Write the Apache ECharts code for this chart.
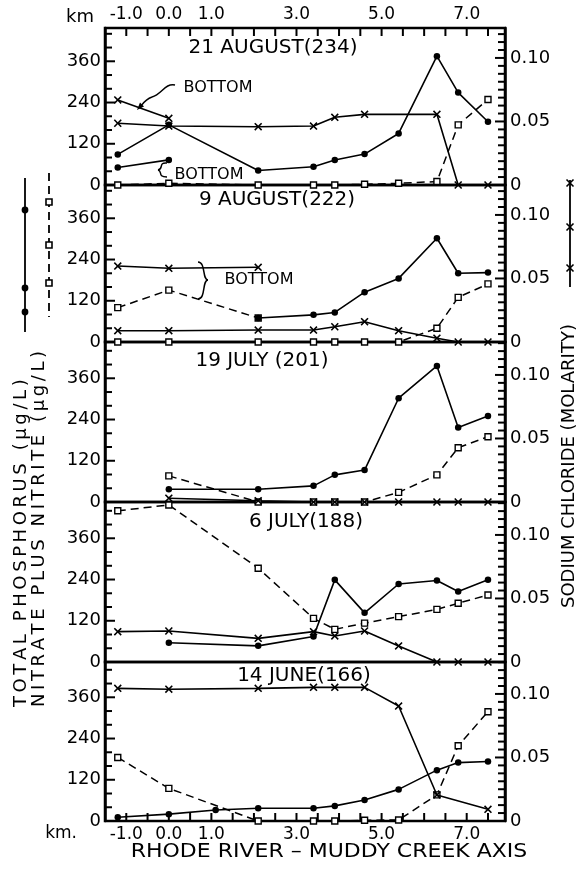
<!DOCTYPE html>
<html>
<head>
<meta charset="utf-8">
<title>Rhode River - Muddy Creek axis: phosphorus, nitrate and sodium chloride</title>
<script src="https://cdn.jsdelivr.net/npm/echarts@6/dist/echarts.min.js"></script>
<style>
  html, body { margin: 0; padding: 0; background: #fff; }
  #chart { width: 581px; height: 871px; background: #fff; }
</style>
</head>
<body>
<div id="chart"></div>
<script>
// Sampling stations along the axis (km)
const stationKm = [-1.2, 0.0, 1.1, 2.1, 3.4, 3.9, 4.6, 5.4, 6.3, 6.8, 7.5];
const kmTickLabels = [-1, 0, 1, 3, 5, 7];
const concTickLabels = [0, 120, 240, 360];
const molarTickLabels = [0, 0.05, 0.10];
const panelTitles = ['21 AUGUST(234)', '9 AUGUST(222)', '19 JULY (201)', '6 JULY(188)', '14 JUNE(166)'];

// 21 August (day 234)
const phos234 = [89, 175, null, 42, 53, 73, 90, 150, 375, 269, 184];
const phos234Bottom = [51, 73];
const nitr234 = [0, 5, null, 0, 0, 0, 2, 5, 10, 175, 249];
const salt234 = [0.0486, 0.0464, null, 0.0459, 0.0464, 0.0533, 0.0556, null, 0.0556, 0, 0];
const salt234Bottom = [0.0669, 0.0525];

// 9 August (day 222)
const phos222 = [null, null, null, 70, 79, 86, 145, 185, 302, 200, 202];
const nitr222 = [0, 0, null, 0, 0, 0, 0, 0, 40, 130, 169];
const nitr222Bottom = [100, 151, null, 70];
const salt222 = [0.0089, 0.0089, null, 0.0094, 0.0094, 0.012, 0.016, 0.0089, 0.003, 0, 0];
const salt222Bottom = [0.0598, 0.058, null, 0.0588];

// 19 July (day 201)
const phos201 = [null, 37, null, 37, 47, 79, 93, 302, 396, 217, 250];
const nitr201 = [null, 76, null, 0, 0, 0, 0, 28, 79, 158, 190];
const salt201 = [null, 0.003, null, 0.001, 0, 0, 0, 0, 0, 0, 0];

// 6 July (day 188)
const phos188 = [null, 56, null, 47, 74, 239, 143, 227, 237, 205, 239];
const nitr188 = [440, 457, null, 273, 127, 95, 113, 132, 153, 171, 195];
const salt188 = [0.0239, 0.0244, null, 0.0186, 0.0239, 0.0205, 0.0244, 0.0126, 0, 0, 0];

// 14 June (day 166)
const phos166 = [11, 20, 32, 37, 37, 44, 61, 92, 148, 170, 173];
const nitr166 = [185, 95, null, 0, 0, 0, 2, 3, 76, 219, 318];
const salt166 = [0.1044, 0.1037, null, 0.1044, 0.1052, 0.1052, 0.1052, 0.0905, 0.0205, null, 0.0092];

const panels = [
  { phos: phos234, phosBottom: phos234Bottom, nitr: nitr234, nitrBottom: null, salt: salt234, saltBottom: salt234Bottom },
  { phos: phos222, phosBottom: null, nitr: nitr222, nitrBottom: nitr222Bottom, salt: salt222, saltBottom: salt222Bottom },
  { phos: phos201, phosBottom: null, nitr: nitr201, nitrBottom: null, salt: salt201, saltBottom: null },
  { phos: phos188, phosBottom: null, nitr: nitr188, nitrBottom: null, salt: salt188, saltBottom: null },
  { phos: phos166, phosBottom: null, nitr: nitr166, nitrBottom: null, salt: salt166, saltBottom: null }
];

// ---- layout ----
const FONT = '"DejaVu Sans", sans-serif';
const PLOT_LEFT = 105, PLOT_WIDTH = 400;
const panelEdges = [28, 185, 342, 502, 662, 821];
const CONC_PER_PX = 2.91;      // µg/L per pixel, same for every panel
const MOLAR_PER_PX = 0.000787; // mol/L per pixel
const X_MIN = -1.5, X_MAX = 7.9;
const CONC_MINOR = 40, MOLAR_MINOR = 0.00625, KM_MINOR = 0.5;
const titleCenters = [[273, 48], [277, 200], [262, 361], [306, 522], [304, 676]];

const CROSS = 'path://M0,1.4L1.4,0L5,3.6L8.6,0L10,1.4L6.4,5L10,8.6L8.6,10L5,6.4L1.4,10L0,8.6L3.6,5Z';

function pts(vals) {
  const out = [];
  vals.forEach((v, i) => { if (v !== null && v !== undefined) out.push([stationKm[i], v]); });
  return out;
}

// spread lettering with thin spaces
const spaced = s => Array.from(s).join('\u2009');

const grids = [], xAxes = [], yAxes = [], series = [];
const concMax = [], molarMax = [];

panels.forEach((p, i) => {
  const top = panelEdges[i], h = panelEdges[i + 1] - panelEdges[i];
  concMax.push(h * CONC_PER_PX);
  molarMax.push(h * MOLAR_PER_PX);
  grids.push({ left: PLOT_LEFT, width: PLOT_WIDTH, top: top, height: h, show: true,
    borderColor: '#000', borderWidth: 2.5 });
  const edge = (i === 0 || i === panels.length - 1);
  xAxes.push({
    gridIndex: i, type: 'value', min: X_MIN, max: X_MAX, interval: 0.5,
    position: i === 0 ? 'top' : 'bottom',
    axisLine: { show: false, onZero: false },
    axisTick: { show: false },
    axisLabel: { show: edge, margin: 5, color: '#000', fontSize: 17, fontFamily: FONT,
      formatter: v => kmTickLabels.includes(v) ? v.toFixed(1) : ' ' },
    splitLine: { show: false }
  });
  yAxes.push({
    gridIndex: i, type: 'value', min: 0, max: concMax[i], interval: 120, position: 'left',
    axisLine: { show: true, onZero: false, lineStyle: { color: '#000', width: 2.5 } },
    axisTick: { show: false },
    axisLabel: { margin: 4, color: '#000', fontSize: 18, fontFamily: FONT, showMaxLabel: false,
      formatter: v => concTickLabels.includes(v) ? String(v) : ' ' },
    splitLine: { show: false }
  });
  yAxes.push({
    gridIndex: i, type: 'value', min: 0, max: molarMax[i], interval: 0.05, position: 'right',
    axisLine: { show: true, onZero: false, lineStyle: { color: '#000', width: 2.5 } },
    axisTick: { show: false },
    axisLabel: { margin: 5, color: '#000', fontSize: 18, fontFamily: FONT, showMaxLabel: false,
      formatter: v => {
        const hit = molarTickLabels.find(t => Math.abs(t - v) < 1e-9);
        if (hit === undefined) return ' ';
        return hit === 0 ? '0' : hit.toFixed(2);
      } },
    splitLine: { show: false }
  });

  const phosStyle = vals => ({
    type: 'line', xAxisIndex: i, yAxisIndex: 2 * i, data: pts(vals),
    symbol: 'circle', symbolSize: 6.5, itemStyle: { color: '#000' },
    lineStyle: { color: '#000', width: 1.6 }, z: 3, animation: false
  });
  const nitrStyle = vals => ({
    type: 'line', xAxisIndex: i, yAxisIndex: 2 * i, data: pts(vals),
    symbol: 'rect', symbolSize: 6, itemStyle: { color: '#fff', borderColor: '#000', borderWidth: 1.4 },
    lineStyle: { color: '#000', width: 1.5, type: [8, 5] }, z: 2, animation: false
  });
  const saltStyle = vals => ({
    type: 'line', xAxisIndex: i, yAxisIndex: 2 * i + 1, data: pts(vals),
    symbol: CROSS, symbolSize: 8, itemStyle: { color: '#000' },
    lineStyle: { color: '#000', width: 1.6 }, z: 4, animation: false
  });

  series.push(nitrStyle(p.nitr));
  if (p.nitrBottom) series.push(nitrStyle(p.nitrBottom));
  series.push(phosStyle(p.phos));
  if (p.phosBottom) series.push(phosStyle(p.phosBottom));
  series.push(saltStyle(p.salt));
  if (p.saltBottom) series.push(saltStyle(p.saltBottom));
});

// ---- text and keys ----
const graphics = [];
const txt = (text, x, y, size, extra) => Object.assign({
  type: 'text', x: x, y: y, silent: true,
  style: { text: text, fill: '#000', fontSize: size, fontFamily: FONT, align: 'center', verticalAlign: 'middle' }
}, extra || {});

panelTitles.forEach((t, i) => graphics.push(txt(t, titleCenters[i][0], titleCenters[i][1], 20)));

graphics.push(txt('km', 80, 17, 18));
graphics.push(txt('km.', 77, 834, 17, { style: { text: 'km.', fill: '#000', fontSize: 17, fontFamily: FONT, align: 'right', verticalAlign: 'middle' } }));
graphics.push(txt('RHODE RIVER – MUDDY CREEK AXIS', 329, 852, 20, { scaleX: 1.1 }));

// vertical axis titles
graphics.push({ type: 'text', x: 21, y: 707, rotation: Math.PI / 2, silent: true,
  style: { text: spaced('TOTAL PHOSPHORUS (μg/L)'), fill: '#000', fontSize: 18, fontFamily: FONT, align: 'left', verticalAlign: 'middle' } });
graphics.push({ type: 'text', x: 39, y: 707, rotation: Math.PI / 2, silent: true,
  style: { text: spaced('NITRATE PLUS NITRITE (μg/L)'), fill: '#000', fontSize: 18, fontFamily: FONT, align: 'left', verticalAlign: 'middle' } });
graphics.push({ type: 'text', x: 569, y: 608, rotation: Math.PI / 2, silent: true,
  style: { text: 'SODIUM CHLORIDE (MOLARITY)', fill: '#000', fontSize: 18, fontFamily: FONT, align: 'left', verticalAlign: 'middle' } });

// BOTTOM notes
graphics.push(txt('BOTTOM', 218, 88, 16));
graphics.push(txt('BOTTOM', 209, 175, 16));
graphics.push(txt('BOTTOM', 259, 280, 16));
const ink = { stroke: '#000', fill: null, lineWidth: 1.5 };
graphics.push({ type: 'bezierCurve', silent: true,
  shape: { x1: 175, y1: 85, cpx1: 165, cpy1: 83, cpx2: 162, cpy2: 94, x2: 152, y2: 97 }, style: ink });
graphics.push({ type: 'bezierCurve', silent: true,
  shape: { x1: 152, y1: 97, cpx1: 146, cpy1: 99, cpx2: 144, cpy2: 102, x2: 141, y2: 106 }, style: ink });
graphics.push({ type: 'polygon', silent: true,
  shape: { points: [[137, 110], [144, 106.5], [140, 102.5]] }, style: { fill: '#000' } });
// small brace below the surface bottom values (21 Aug)
graphics.push({ type: 'bezierCurve', silent: true,
  shape: { x1: 167, y1: 163, cpx1: 158, cpy1: 162, cpx2: 164, cpy2: 169, x2: 158, y2: 170 }, style: ink });
graphics.push({ type: 'bezierCurve', silent: true,
  shape: { x1: 158, y1: 170, cpx1: 163, cpy1: 171, cpx2: 157, cpy2: 177, x2: 167, y2: 177 }, style: ink });
// brace for 9 Aug bottom values
graphics.push({ type: 'bezierCurve', silent: true,
  shape: { x1: 198, y1: 262, cpx1: 206, cpy1: 262, cpx2: 202, cpy2: 280, x2: 208, y2: 280 }, style: ink });
graphics.push({ type: 'bezierCurve', silent: true,
  shape: { x1: 208, y1: 280, cpx1: 202, cpy1: 280, cpx2: 206, cpy2: 299, x2: 198, y2: 299 }, style: ink });

// series keys beside the axes
graphics.push({ type: 'line', silent: true, shape: { x1: 25, y1: 178, x2: 25, y2: 332 }, style: { stroke: '#000', lineWidth: 1.8 } });
[210, 288, 312].forEach(y => graphics.push({ type: 'circle', silent: true, shape: { cx: 25, cy: y, r: 3.4 }, style: { fill: '#000' } }));
graphics.push({ type: 'line', silent: true, shape: { x1: 49, y1: 173, x2: 49, y2: 317 }, style: { stroke: '#000', lineWidth: 1.8, lineDash: [8, 5] } });
[202, 245, 283].forEach(y => graphics.push({ type: 'rect', silent: true, shape: { x: 46, y: y - 3, width: 6, height: 6 }, style: { fill: '#fff', stroke: '#000', lineWidth: 1.6 } }));
graphics.push({ type: 'line', silent: true, shape: { x1: 570, y1: 180, x2: 570, y2: 287 }, style: { stroke: '#000', lineWidth: 1.8 } });
[183, 227, 268].forEach(y => {
  graphics.push({ type: 'line', silent: true, shape: { x1: 566.5, y1: y - 3.5, x2: 573.5, y2: y + 3.5 }, style: { stroke: '#000', lineWidth: 1.6 } });
  graphics.push({ type: 'line', silent: true, shape: { x1: 573.5, y1: y - 3.5, x2: 566.5, y2: y + 3.5 }, style: { stroke: '#000', lineWidth: 1.6 } });
});

const chart = echarts.init(document.getElementById('chart'), null, { renderer: 'canvas' });
chart.setOption({
  animation: false,
  grid: grids,
  xAxis: xAxes,
  yAxis: yAxes,
  series: series,
  graphic: { elements: graphics }
});

// Inner tick marks on the frame, placed through each panel's axis scales
const tickStyle = { stroke: '#000', lineWidth: 2 };
const tickMarks = [];
const near = (a, b) => Math.abs(a - b) < 1e-9;
panels.forEach((p, i) => {
  const xl = chart.convertToPixel({ xAxisIndex: i }, X_MIN);
  const xr = chart.convertToPixel({ xAxisIndex: i }, X_MAX);
  for (let k = 1; k * CONC_MINOR < concMax[i] - 1e-6; k++) {
    const v = k * CONC_MINOR;
    const y = chart.convertToPixel({ yAxisIndex: 2 * i }, v);
    const len = (v % 120 === 0) ? 10 : 7;
    tickMarks.push({ type: 'line', silent: true, z: 50, shape: { x1: xl, y1: y, x2: xl + len, y2: y }, style: tickStyle });
  }
  for (let k = 1; k * MOLAR_MINOR < molarMax[i] - 1e-9; k++) {
    const v = k * MOLAR_MINOR;
    const y = chart.convertToPixel({ yAxisIndex: 2 * i + 1 }, v);
    const len = (near(v, 0.05) || near(v, 0.1)) ? 10 : 7;
    tickMarks.push({ type: 'line', silent: true, z: 50, shape: { x1: xr, y1: y, x2: xr - len, y2: y }, style: tickStyle });
  }
  if (i === 0 || i === panels.length - 1) {
    const yEdge = chart.convertToPixel({ yAxisIndex: 2 * i }, i === 0 ? concMax[i] : 0);
    const dir = i === 0 ? 1 : -1;
    for (let k = 1; X_MIN + k * KM_MINOR < X_MAX - 1e-6; k++) {
      const x = chart.convertToPixel({ xAxisIndex: i }, X_MIN + k * KM_MINOR);
      tickMarks.push({ type: 'line', silent: true, z: 50, shape: { x1: x, y1: yEdge, x2: x, y2: yEdge + dir * 8 }, style: tickStyle });
    }
  }
});
chart.setOption({ graphic: { elements: graphics.concat(tickMarks) } });
</script>
</body>
</html>
